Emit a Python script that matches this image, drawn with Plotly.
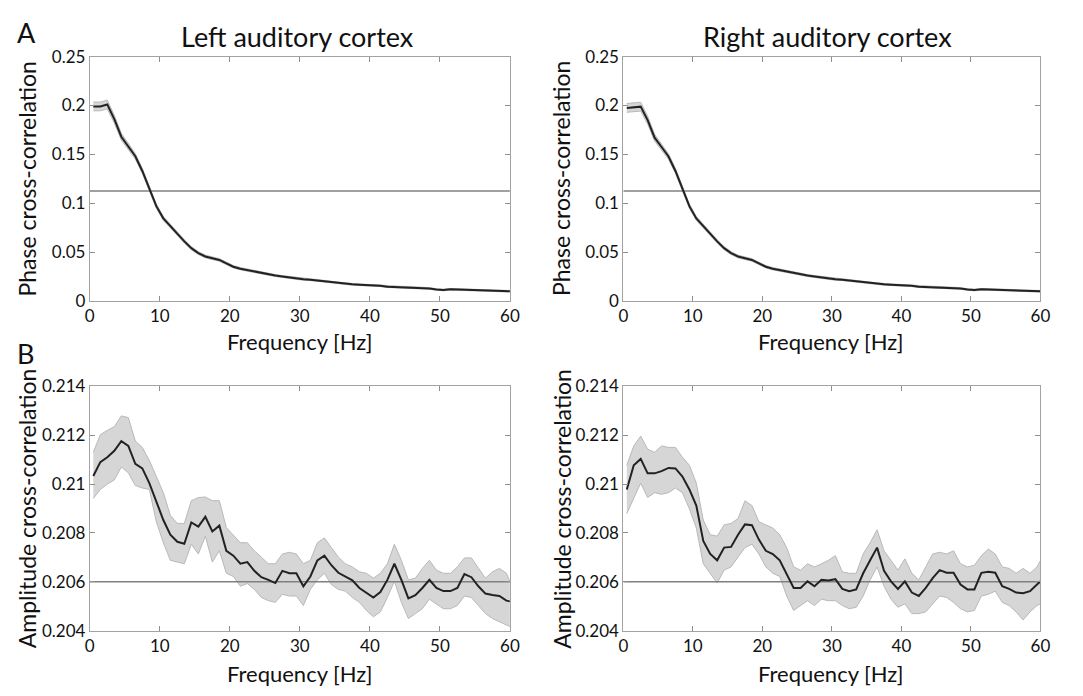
import plotly.graph_objects as go
from plotly.subplots import make_subplots

# Frequency bins [Hz]
freqs = [0.5, 1.5, 2.5, 3.5, 4.5, 5.5, 6.5, 7.5, 8.5, 9.5,
         10.5, 11.5, 12.5, 13.5, 14.5, 15.5, 16.5, 17.5, 18.5, 19.5,
         20.5, 21.5, 22.5, 23.5, 24.5, 25.5, 26.5, 27.5, 28.5, 29.5,
         30.5, 31.5, 32.5, 33.5, 34.5, 35.5, 36.5, 37.5, 38.5, 39.5,
         40.5, 41.5, 42.5, 43.5, 44.5, 45.5, 46.5, 47.5, 48.5, 49.5,
         50.5, 51.5, 52.5, 53.5, 54.5, 55.5, 56.5, 57.5, 58.5, 59.5, 60]

# Phase cross-correlation (mean and band half-width)
phase_left_mean = [0.1990, 0.1990, 0.2010, 0.1860, 0.1680, 0.1580, 0.1480, 0.1330, 0.1150, 0.0970,
                   0.0845, 0.0765, 0.0690, 0.0610, 0.0540, 0.0490, 0.0455, 0.0435, 0.0420, 0.0385,
                   0.0350, 0.0330, 0.0315, 0.0300, 0.0285, 0.0270, 0.0260, 0.0250, 0.0240, 0.0230,
                   0.0222, 0.0218, 0.0210, 0.0200, 0.0190, 0.0182, 0.0176, 0.0170, 0.0166, 0.0164,
                   0.0163, 0.0155, 0.0146, 0.0143, 0.0142, 0.0141, 0.0139, 0.0135, 0.0128, 0.0118,
                   0.0112, 0.0120, 0.0118, 0.0114, 0.0112, 0.0110, 0.0108, 0.0105, 0.0102, 0.0100, 0.0099]
phase_left_sem = [0.0045, 0.0045, 0.0045, 0.0040, 0.0035, 0.0030, 0.0028, 0.0026, 0.0024, 0.0022,
                  0.0020, 0.0019, 0.0018, 0.0017, 0.0016, 0.0015, 0.0014, 0.0014, 0.0013, 0.0013,
                  0.0012, 0.0012, 0.0012, 0.0011, 0.0011, 0.0011, 0.0010, 0.0010, 0.0010, 0.0010,
                  0.0010, 0.0009, 0.0009, 0.0009, 0.0009, 0.0009, 0.0009, 0.0009, 0.0008, 0.0008,
                  0.0008, 0.0008, 0.0008, 0.0008, 0.0008, 0.0008, 0.0008, 0.0008, 0.0008, 0.0008,
                  0.0008, 0.0008, 0.0008, 0.0008, 0.0008, 0.0008, 0.0008, 0.0008, 0.0008, 0.0008, 0.0008]
phase_right_mean = [0.1975, 0.1980, 0.1988, 0.1850, 0.1670, 0.1575, 0.1478, 0.1330, 0.1150, 0.0970,
                    0.0845, 0.0765, 0.0690, 0.0610, 0.0540, 0.0490, 0.0455, 0.0435, 0.0420, 0.0385,
                    0.0350, 0.0330, 0.0315, 0.0300, 0.0285, 0.0270, 0.0260, 0.0250, 0.0240, 0.0230,
                    0.0222, 0.0218, 0.0210, 0.0200, 0.0190, 0.0182, 0.0176, 0.0170, 0.0166, 0.0164,
                    0.0163, 0.0155, 0.0146, 0.0143, 0.0142, 0.0141, 0.0139, 0.0135, 0.0128, 0.0118,
                    0.0112, 0.0120, 0.0118, 0.0114, 0.0112, 0.0110, 0.0108, 0.0105, 0.0102, 0.0100, 0.0099]
phase_right_sem = phase_left_sem

# Amplitude cross-correlation: mean, upper and lower band edges
amp_left_mean = [0.21033, 0.21090, 0.21110, 0.21136, 0.21176, 0.21156, 0.21083, 0.21064, 0.21004, 0.20925,
                 0.20853, 0.20793, 0.20764, 0.20756, 0.20843, 0.20826, 0.20866, 0.20806, 0.20830, 0.20727,
                 0.20707, 0.20674, 0.20681, 0.20645, 0.20619, 0.20608, 0.20595, 0.20645, 0.20635, 0.20635,
                 0.20582, 0.20622, 0.20688, 0.20707, 0.20668, 0.20637, 0.20622, 0.20606, 0.20575, 0.20556,
                 0.20536, 0.20558, 0.20608, 0.20674, 0.20608, 0.20532, 0.20545, 0.20575, 0.20608, 0.20575,
                 0.20562, 0.20562, 0.20575, 0.20632, 0.20619, 0.20582, 0.20552, 0.20546, 0.20542, 0.20523, 0.20520]
amp_left_upper = [0.21130, 0.21202, 0.21220, 0.21235, 0.21279, 0.21272, 0.21176, 0.21150, 0.21097, 0.21031,
                  0.20965, 0.20872, 0.20839, 0.20839, 0.20932, 0.20945, 0.20947, 0.20932, 0.20932, 0.20822,
                  0.20793, 0.20760, 0.20760, 0.20727, 0.20701, 0.20674, 0.20674, 0.20714, 0.20721, 0.20714,
                  0.20674, 0.20688, 0.20760, 0.20780, 0.20740, 0.20701, 0.20674, 0.20661, 0.20641, 0.20635,
                  0.20615, 0.20635, 0.20674, 0.20754, 0.20688, 0.20608, 0.20615, 0.20655, 0.20688, 0.20648,
                  0.20635, 0.20635, 0.20661, 0.20698, 0.20698, 0.20655, 0.20615, 0.20641, 0.20655, 0.20635, 0.20602]
amp_left_lower = [0.20941, 0.20978, 0.21000, 0.21017, 0.21070, 0.21046, 0.20994, 0.20984, 0.20978, 0.20846,
                  0.20760, 0.20688, 0.20681, 0.20674, 0.20754, 0.20714, 0.20787, 0.20681, 0.20727, 0.20635,
                  0.20622, 0.20582, 0.20593, 0.20569, 0.20536, 0.20523, 0.20516, 0.20549, 0.20542, 0.20542,
                  0.20503, 0.20569, 0.20608, 0.20635, 0.20589, 0.20569, 0.20562, 0.20536, 0.20516, 0.20483,
                  0.20457, 0.20477, 0.20536, 0.20602, 0.20516, 0.20450, 0.20470, 0.20490, 0.20529, 0.20510,
                  0.20490, 0.20490, 0.20503, 0.20542, 0.20536, 0.20503, 0.20470, 0.20450, 0.20437, 0.20424, 0.20417]

amp_right_mean = [0.20978, 0.21077, 0.21103, 0.21044, 0.21044, 0.21053, 0.21066, 0.21064, 0.21031, 0.20978,
                  0.20912, 0.20767, 0.20714, 0.20688, 0.20740, 0.20743, 0.20793, 0.20835, 0.20832, 0.20773,
                  0.20727, 0.20714, 0.20688, 0.20628, 0.20575, 0.20575, 0.20602, 0.20582, 0.20608, 0.20606,
                  0.20611, 0.20571, 0.20562, 0.20569, 0.20635, 0.20688, 0.20740, 0.20645, 0.20602, 0.20571,
                  0.20602, 0.20556, 0.20542, 0.20575, 0.20615, 0.20648, 0.20637, 0.20637, 0.20589, 0.20569,
                  0.20569, 0.20637, 0.20641, 0.20637, 0.20582, 0.20571, 0.20556, 0.20553, 0.20562, 0.20589, 0.20602]
amp_right_upper = [0.21077, 0.21156, 0.21196, 0.21143, 0.21130, 0.21156, 0.21150, 0.21150, 0.21110, 0.21077,
                   0.21004, 0.20853, 0.20793, 0.20787, 0.20833, 0.20839, 0.20859, 0.20932, 0.20912, 0.20846,
                   0.20833, 0.20820, 0.20793, 0.20740, 0.20661, 0.20648, 0.20674, 0.20661, 0.20674, 0.20688,
                   0.20707, 0.20641, 0.20635, 0.20635, 0.20714, 0.20760, 0.20813, 0.20727, 0.20688, 0.20648,
                   0.20694, 0.20635, 0.20608, 0.20661, 0.20714, 0.20721, 0.20714, 0.20727, 0.20674, 0.20661,
                   0.20668, 0.20707, 0.20734, 0.20714, 0.20661, 0.20655, 0.20635, 0.20655, 0.20635, 0.20661, 0.20688]
amp_right_lower = [0.20879, 0.20945, 0.21004, 0.20945, 0.20965, 0.20958, 0.20965, 0.20984, 0.20965, 0.20899,
                   0.20820, 0.20674, 0.20635, 0.20595, 0.20648, 0.20661, 0.20701, 0.20740, 0.20754, 0.20714,
                   0.20661, 0.20635, 0.20622, 0.20542, 0.20483, 0.20503, 0.20523, 0.20503, 0.20529, 0.20523,
                   0.20523, 0.20503, 0.20490, 0.20496, 0.20542, 0.20608, 0.20661, 0.20582, 0.20529, 0.20496,
                   0.20510, 0.20470, 0.20470, 0.20477, 0.20510, 0.20542, 0.20536, 0.20516, 0.20490, 0.20477,
                   0.20483, 0.20542, 0.20549, 0.20562, 0.20516, 0.20503, 0.20477, 0.20444, 0.20477, 0.20503, 0.20510]

phase_threshold = 0.1125
amp_threshold = 0.206

x_ticks = [0, 10, 20, 30, 40, 50, 60]
phase_ticks = [0, 0.05, 0.1, 0.15, 0.2, 0.25]
phase_tick_text = ["0", "0.05", "0.1", "0.15", "0.2", "0.25"]
amp_ticks = [0.204, 0.206, 0.208, 0.210, 0.212, 0.214]
amp_tick_text = ["0.204", "0.206", "0.208", "0.21", "0.212", "0.214"]

FONT = "Lato"
TEXT = "#111111"
BAND_FILL = "#d6d6d6"
BAND_EDGE = "#b8b8b8"
LINE = "#222222"
THR = "#808080"

fig = make_subplots(rows=2, cols=2)


def add_panel(row, col, mean, upper, lower, thr):
    fig.add_trace(go.Scatter(x=freqs, y=lower, mode="lines",
                             line=dict(color=BAND_EDGE, width=1),
                             showlegend=False, hoverinfo="skip"), row=row, col=col)
    fig.add_trace(go.Scatter(x=freqs, y=upper, mode="lines", fill="tonexty",
                             fillcolor=BAND_FILL,
                             line=dict(color=BAND_EDGE, width=1),
                             showlegend=False, hoverinfo="skip"), row=row, col=col)
    fig.add_trace(go.Scatter(x=[0, 60], y=[thr, thr], mode="lines",
                             line=dict(color=THR, width=1.5),
                             showlegend=False), row=row, col=col)
    fig.add_trace(go.Scatter(x=freqs, y=mean, mode="lines",
                             line=dict(color=LINE, width=2),
                             showlegend=False), row=row, col=col)


pl_up = [m + s for m, s in zip(phase_left_mean, phase_left_sem)]
pl_lo = [m - s for m, s in zip(phase_left_mean, phase_left_sem)]
pr_up = [m + s for m, s in zip(phase_right_mean, phase_right_sem)]
pr_lo = [m - s for m, s in zip(phase_right_mean, phase_right_sem)]

add_panel(1, 1, phase_left_mean, pl_up, pl_lo, phase_threshold)
add_panel(1, 2, phase_right_mean, pr_up, pr_lo, phase_threshold)
add_panel(2, 1, amp_left_mean, amp_left_upper, amp_left_lower, amp_threshold)
add_panel(2, 2, amp_right_mean, amp_right_upper, amp_right_lower, amp_threshold)

W, H = 1083, 696
x_left = [86 / W, 512 / W]
x_right = [627 / W, 1050 / W]
y_top = [1 - 299 / H, 1 - 47 / H]
y_bot = [1 - 639 / H, 1 - 387 / H]

axis_common = dict(ticks="inside", ticklen=5, tickcolor="#8f8f8f", tickwidth=1,
                   showline=True, linecolor="#a3a3a3", linewidth=1, mirror="allticks",
                   showgrid=False, zeroline=False,
                   tickfont=dict(family=FONT, size=17, color=TEXT))

for ax, dom in (("xaxis", x_left), ("xaxis2", x_right), ("xaxis3", x_left), ("xaxis4", x_right)):
    fig.layout[ax].update(domain=dom, range=[0, 60], tickvals=x_ticks, **axis_common)
for ax, dom in (("yaxis", y_top), ("yaxis2", y_top)):
    fig.layout[ax].update(domain=dom, range=[0, 0.25], tickvals=phase_ticks,
                          ticktext=phase_tick_text, **axis_common)
for ax, dom in (("yaxis3", y_bot), ("yaxis4", y_bot)):
    fig.layout[ax].update(domain=dom, range=[0.204, 0.214], tickvals=amp_ticks,
                          ticktext=amp_tick_text, **axis_common)

ann = []


def label(text, x, y, size, angle=0, xanchor="center"):
    ann.append(dict(text=text, x=x / W, y=1 - y / H, xref="paper", yref="paper",
                    xanchor=xanchor, yanchor="middle", showarrow=False, textangle=angle,
                    font=dict(family=FONT, size=size, color=TEXT)))


label("A", 10, 22, 27, xanchor="left")
label("B", 10, 353, 27, xanchor="left")
label("Left auditory cortex", 297, 26, 27)
label("Right auditory cortex", 834, 26, 27)
label("Frequency [Hz]", 299, 341, 22)
label("Frequency [Hz]", 838, 341, 22)
label("Frequency [Hz]", 299, 683, 22)
label("Frequency [Hz]", 838, 683, 22)
label("Phase cross-correlation", 22, 173, 23, angle=-90)
label("Phase cross-correlation", 564, 173, 23, angle=-90)
label("Amplitude cross-correlation", 22, 513, 23, angle=-90)
label("Amplitude cross-correlation", 564, 513, 23, angle=-90)

fig.update_layout(width=W, height=H, margin=dict(l=0, r=0, t=0, b=0),
                  paper_bgcolor="white", plot_bgcolor="white",
                  annotations=ann, showlegend=False)

fig.write_html("out.html")
